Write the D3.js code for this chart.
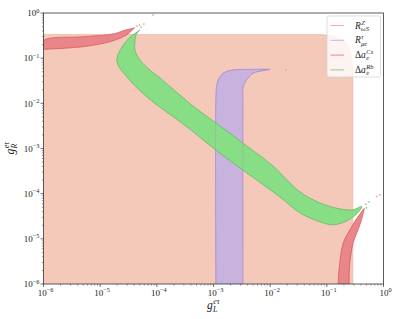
<!DOCTYPE html>
<html lang="en">
<head>
<meta charset="utf-8">
<script src="https://d3js.org/d3.v7.min.js"></script>
<style>
  body { margin: 0; background: #fff; }
  text { font-family: "Liberation Serif", "DejaVu Serif", serif; fill: #222; }
</style>
</head>
<body>
<script>
var width = 399, height = 319;
var margin = {top: 13, right: 15.5, bottom: 35, left: 43.5};

// allowed region boundaries, as [g_L, g_R] pairs
var rZ = [[1e-7,1e-7],[1e-7,0.335],[0.0753,0.335],[0.138,0.310],[0.200,0.253],[0.244,0.177],
          [0.276,0.106],[0.288,0.0495],[0.288,1e-7]];

var rTau = [[1.10e-3,1e-7],[1.10e-3,1e-6],[1.10e-3,0.0119],[1.135e-3,0.0234],[1.21e-3,0.033],[1.48e-3,0.0463],
            [2.22e-3,0.0548],[4.39e-3,0.0562],[9.9e-3,0.0562],[7.5e-3,0.0529],[5.0e-3,0.0463],
            [3.84e-3,0.033],[3.34e-3,0.0234],[3.30e-3,0.0119],[3.30e-3,1e-6],[3.30e-3,1e-7]];

var aRb = [[5.04e-5,0.421],[4.28e-5,0.326],[4.11e-5,0.228],[4.11e-5,0.152],[5.04e-5,0.0912],
           [7.55e-5,0.0548],[1.135e-4,0.0365],[2.55e-4,0.01535],[4.34e-4,8.75e-3],[1.30e-3,3.16e-3],
           [3.88e-3,1.14e-3],[0.0112,4.12e-4],[0.0334,1.10e-4],[0.0753,6.25e-5],[0.169,4.61e-5],
           [0.288,4.39e-5],[0.414,5.24e-5],
           [0.352,3.76e-5],[0.225,2.50e-5],[0.128,2.04e-5],[0.0753,2.38e-5],[0.0334,3.76e-5],
           [0.0148,8.49e-5],[3.88e-3,2.88e-4],[1.15e-3,8.85e-4],[3.40e-4,3.01e-3],[6.68e-5,0.01387],
           [2.97e-5,0.0384],[2.06e-5,0.0708],[1.98e-5,0.101],[2.42e-5,0.177],[3.36e-5,0.294]];

var aCsTop = [[1e-6,0.157],[1e-6,0.244],[4.98e-6,0.299],[1.30e-5,0.326],[1.98e-5,0.361],[2.55e-5,0.406],
              [3.84e-5,0.459],[4.03e-5,0.466],[3.79e-5,0.436],[2.93e-5,0.326],[1.49e-5,0.232],
              [5.04e-6,0.180],[1e-6,0.157]];

var aCsBottom = [[0.158,1e-7],[0.158,1e-6],[0.169,2.90e-6],[0.194,8.03e-6],[0.255,1.58e-5],[0.356,3.11e-5],
                 [0.437,4.39e-5],[0.458,4.73e-5],[0.450,4.23e-5],[0.409,2.63e-5],[0.356,1.58e-5],
                 [0.291,8.03e-6],[0.255,2.90e-6],[0.247,1e-6],[0.247,1e-7]];

// stray contour specks near the tips
var rbSpecks = [[5.25e-5,0.49],[5.91e-5,0.571],[0.488,5.79e-5],[0.551,6.59e-5]];
var csSpecks = [[4.46e-5,0.516],[4.93e-5,0.543],[8.53e-5,0.90],[0.50,4.85e-5],[0.753,8.63e-5],[0.861,9.4e-5]];
var tauSpecks = [[0.0189,0.0548]];

var tickExps = [-6, -5, -4, -3, -2, -1, 0];

var legendItems = [
  {base: [["R","italic"]], sup: "Z", sub: "ωS", color: "#f2b3a2"},
  {base: [["R","italic"]], sup: "τ", sub: "μe", color: "#c9b4e6"},
  {base: [["Δ","normal"],["a","italic"]], sup: "Cs", sub: "e", color: "#e8868a"},
  {base: [["Δ","normal"],["a","italic"]], sup: "Rb", sub: "e", color: "#86cf82"}
];

var svg = d3.select('body')
  .append('svg')
  .attr('width', width)
  .attr('height', height);

var x = d3.scaleLog().domain([1e-6, 1]).range([margin.left, width - margin.right]);
var y = d3.scaleLog().domain([1e-6, 1]).range([height - margin.bottom, margin.top]);

svg.append('clipPath').attr('id', 'plotclip')
  .append('rect')
  .attr('x', x(1e-6)).attr('y', y(1))
  .attr('width', x(1) - x(1e-6)).attr('height', y(1e-6) - y(1));

var plot = svg.append('g').attr('clip-path', 'url(#plotclip)');

// open smooth curve through the boundary points, closed with a straight edge
var line = d3.line()
  .x(function(d) { return x(d[0]); })
  .y(function(d) { return y(d[1]); })
  .curve(d3.curveCatmullRom.alpha(0.5));
var lineLin = d3.line()
  .x(function(d) { return x(d[0]); })
  .y(function(d) { return y(d[1]); });

function region(data, fill, stroke, gen) {
  plot.append('path')
    .attr('d', (gen || line)(data) + 'Z')
    .attr('fill', fill)
    .attr('stroke', stroke)
    .attr('stroke-width', 0.7)
    .attr('stroke-linejoin', 'round');
}

region(rZ, '#f4c9ba', '#efb6a4', lineLin);
region(rTau, '#c8b3df', '#a98bd6');
region(aRb, '#87de84', '#5fb35e');
region(aCsTop, '#e8868a', '#d9505a');
region(aCsBottom, '#e8868a', '#d9505a');

// purple edges show through the green band
plot.append('path')
  .attr('d', line(rTau))
  .attr('fill', 'none')
  .attr('stroke', '#a98bd6')
  .attr('stroke-width', 0.6)
  .attr('opacity', 0.6);

function specks(data, color) {
  plot.selectAll(null)
    .data(data)
    .join('circle')
    .attr('cx', function(d) { return x(d[0]); })
    .attr('cy', function(d) { return y(d[1]); })
    .attr('r', 0.8)
    .attr('fill', color);
}
specks(rbSpecks, '#6fcf6c');
specks(csSpecks, '#e8868a');
specks(tauSpecks, '#b79ee0');

// minor + major ticks
var minor = [];
tickExps.slice(0, -1).forEach(function(e) {
  for (var m = 2; m <= 9; m++) minor.push(m * Math.pow(10, e));
});
var majors = tickExps.map(function(e) { return Math.pow(10, e); });

var axisCol = '#333';
var x0 = x(1e-6), x1 = x(1), y0 = y(1e-6), y1 = y(1);

svg.selectAll('.xminor').data(minor).join('line')
  .attr('x1', function(d) { return x(d); }).attr('x2', function(d) { return x(d); })
  .attr('y1', y0).attr('y2', y0 + 1.6)
  .attr('stroke', axisCol).attr('stroke-width', 0.5);
svg.selectAll('.xmajor').data(majors).join('line')
  .attr('x1', function(d) { return x(d); }).attr('x2', function(d) { return x(d); })
  .attr('y1', y0).attr('y2', y0 + 3)
  .attr('stroke', axisCol).attr('stroke-width', 0.7);
svg.selectAll('.yminor').data(minor).join('line')
  .attr('y1', function(d) { return y(d); }).attr('y2', function(d) { return y(d); })
  .attr('x1', x0).attr('x2', x0 - 1.6)
  .attr('stroke', axisCol).attr('stroke-width', 0.5);
svg.selectAll('.ymajor').data(majors).join('line')
  .attr('y1', function(d) { return y(d); }).attr('y2', function(d) { return y(d); })
  .attr('x1', x0).attr('x2', x0 - 3)
  .attr('stroke', axisCol).attr('stroke-width', 0.7);

svg.append('rect')
  .attr('x', x0).attr('y', y1)
  .attr('width', x1 - x0).attr('height', y0 - y1)
  .attr('fill', 'none').attr('stroke', axisCol).attr('stroke-width', 0.8);

function powLabel(sel, e) {
  sel.append('tspan').text('10');
  sel.append('tspan').attr('dy', -3.6).attr('font-size', 6.3).text(e === 0 ? '0' : '−' + Math.abs(e));
}

tickExps.forEach(function(e) {
  var t = svg.append('text')
    .attr('x', x(Math.pow(10, e)) + 2)
    .attr('y', y0 + 11.5)
    .attr('text-anchor', 'middle')
    .attr('font-size', 9);
  powLabel(t, e);
  var t2 = svg.append('text')
    .attr('x', x0 - 4)
    .attr('y', y(Math.pow(10, e)) + 3.2)
    .attr('text-anchor', 'end')
    .attr('font-size', 9);
  powLabel(t2, e);
});

// symbol with stacked sub/superscript
function mathLabel(parent, px, py, base, sup, sub, size) {
  var g = parent.append('g');
  var t = g.append('text').attr('x', px).attr('y', py).attr('font-size', size);
  base.forEach(function(b) {
    t.append('tspan').attr('font-style', b[1]).text(b[0]);
  });
  var w = t.node().getComputedTextLength();
  g.append('text').attr('x', px + w + 0.5).attr('y', py - size * 0.42)
    .attr('font-size', size * 0.68).attr('font-style', 'italic').text(sup);
  g.append('text').attr('x', px + w + 0.3).attr('y', py + size * 0.24)
    .attr('font-size', size * 0.68).attr('font-style', 'italic').text(sub);
  return g;
}

mathLabel(svg, 207, 309, [['g','italic']], 'eτ', 'L', 11.5);
var ylab = svg.append('g').attr('transform', 'translate(14,148.5) rotate(-90)');
mathLabel(ylab, -6, 0, [['g','italic']], 'eτ', 'R', 11.5);

// legend
var lg = svg.append('g');
lg.append('rect')
  .attr('x', 327).attr('y', 16).attr('width', 53.5).attr('height', 61)
  .attr('rx', 2).attr('fill', '#fff').attr('fill-opacity', 0.8)
  .attr('stroke', '#d0d0d0').attr('stroke-width', 0.7);
legendItems.forEach(function(it, i) {
  var ly = 25.5 + i * 14.8;
  lg.append('line')
    .attr('x1', 330.5).attr('x2', 344).attr('y1', ly).attr('y2', ly)
    .attr('stroke', it.color).attr('stroke-width', 1);
  mathLabel(lg, 355, ly + 3, it.base, it.sup, it.sub, 9.5);
});
</script>
</body>
</html>
